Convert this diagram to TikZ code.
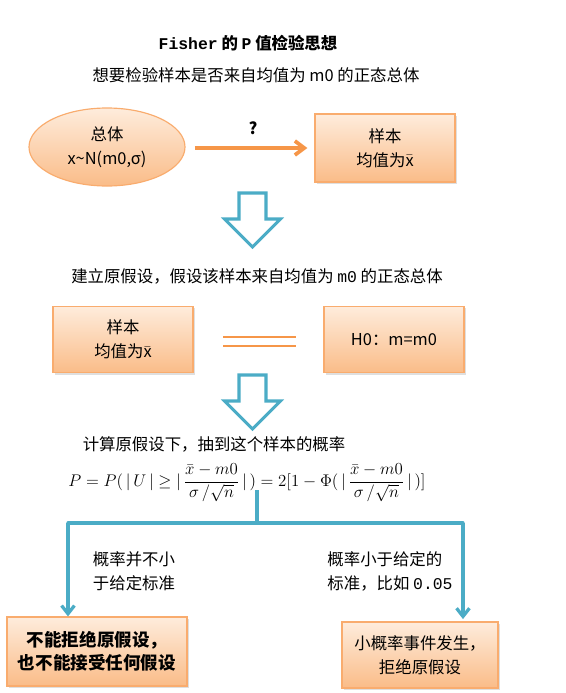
\documentclass[tikz,border=0pt]{standalone}
\usepackage{fontspec}
\setmainfont{Noto Sans CJK SC}
\newfontfamily\monofnt{Liberation Mono}
\usetikzlibrary{arrows.meta, shapes.geometric, shadows}
\definecolor{forange}{RGB}{246,150,72}
\definecolor{fedge}{RGB}{249,172,110}
\definecolor{ftop}{RGB}{254,236,220}
\definecolor{fbot}{RGB}{250,188,136}
\definecolor{fteal}{RGB}{75,172,198}

% hollow down arrow: x of axis, y of top
\newcommand{\hollowdown}[2]{%
  \draw[hollow] (#1-13.5,#2) -- (#1+13.5,#2) -- (#1+13.5,#2+26) -- (#1+28,#2+26)
    -- (#1,#2+54) -- (#1-28,#2+26) -- (#1-13.5,#2+26) -- cycle;}

\begin{document}
\begin{tikzpicture}[
  x=0.03cm, y=-0.03cm,
  font=\fontsize{14}{20.5}\selectfont,
  box/.style={rectangle, draw=fedge, line width=1pt, top color=ftop, bottom color=fbot,
              align=center, drop shadow={opacity=0.25, shadow xshift=1.5pt, shadow yshift=-1.5pt}},
  blob/.style={ellipse, draw=fedge, line width=1pt, top color=ftop, bottom color=fbot,
               align=center, inner sep=0pt},
  hollow/.style={draw=fteal, line width=2.6pt, fill=white, line join=miter},
  oarr/.style={-{Straight Barb[length=8pt, width=12pt]}, line width=3.2pt, forange},
  tarr/.style={-{Straight Barb[length=7pt, width=11pt]}, line width=2.8pt, fteal},
  tline/.style={line width=2.8pt, fteal},
  lbl/.style={align=left, inner sep=0pt}
]
\useasboundingbox (0,0) rectangle (566,693);

% headings
\node (title) at (248,43) {\bfseries {\monofnt Fisher} 的 {\monofnt P} 值检验思想};
\node (quest) at (256,75) {想要检验样本是否来自均值为 m0 的正态总体};

% first row
\node[blob, minimum width=4.68cm, minimum height=2.34cm] (pop) at (107,147)
  {总体\\ x\textasciitilde N(m0,σ)};
\node[box, minimum width=4.2cm, minimum height=2.04cm] (samp) at (385,148)
  {样本\\ 均值为$\bar{\mathrm{x}}$};
\draw[oarr, shorten <=8pt, shorten >=6pt] (pop.east |- samp) -- (samp.west);
\node[font=\fontsize{14}{18}\selectfont\bfseries] (qmark) at (253,128) {?};

\hollowdown{252.5}{193}

% null hypothesis
\node (hyp) at (257,276) {建立原假设，假设该样本来自均值为 {\monofnt m0} 的正态总体};
\node[box, minimum width=4.2cm, minimum height=2.0cm] (sampB) at (123,339.5)
  {样本\\ 均值为$\bar{\mathrm{x}}$};
\node[box, minimum width=4.2cm, minimum height=2.0cm] (hzero) at (394,339.5)
  {H0：m=m0};
\coordinate (eqL) at (223,337);
\coordinate (eqR) at (296,337);
\draw[forange, line width=1.6pt] (eqL) -- (eqR);
\draw[forange, line width=1.6pt] ([yshift=-9*0.03cm]eqL) -- ([yshift=-9*0.03cm]eqR);

\hollowdown{252.5}{375}

% probability
\node[inner sep=0pt] (calc) at (214,444) {计算原假设下，抽到这个样本的概率};
\node[inner sep=0pt, font=\fontsize{14.5}{18}\selectfont] (form) at (247,483)
  {$P = P(\,|\,U\,|\geq|\,\displaystyle\frac{\bar{x}-m0}{\sigma\,/\sqrt{n}}\,|\,) = 2[1-\Phi(\,|\,\displaystyle\frac{\bar{x}-m0}{\sigma\,/\sqrt{n}}\,|\,)]$};

% decision
\node[box, minimum width=5.4cm, minimum height=2.07cm, font=\fontsize{15}{20}\selectfont\bfseries]
  (keep) at (97,651.5) {不能拒绝原假设，\\ 也不能接受任何假设};
\node[box, minimum width=4.68cm, minimum height=1.98cm] (reject) at (420,655)
  {小概率事件发生，\\ 拒绝原假设};
\coordinate (stem) at (257,490);
\coordinate (forkL) at (68,523);
\coordinate (forkR) at (463,523);
\draw[tline] (stem) -- (stem |- forkL);
\draw[tline, line cap=round] (forkL) -- (forkR);
\draw[tarr] (forkL) -- (forkL |- keep.north);
\draw[tarr, shorten >=2pt] (forkR) -- (forkR |- reject.north);
\node[lbl] (notsmall) at (134,571) {概率并不小\\于给定标准};
\node[lbl] (small) at (390,571) {概率小于给定的\\标准，比如 {\monofnt 0.05}};
\end{tikzpicture}
\end{document}
